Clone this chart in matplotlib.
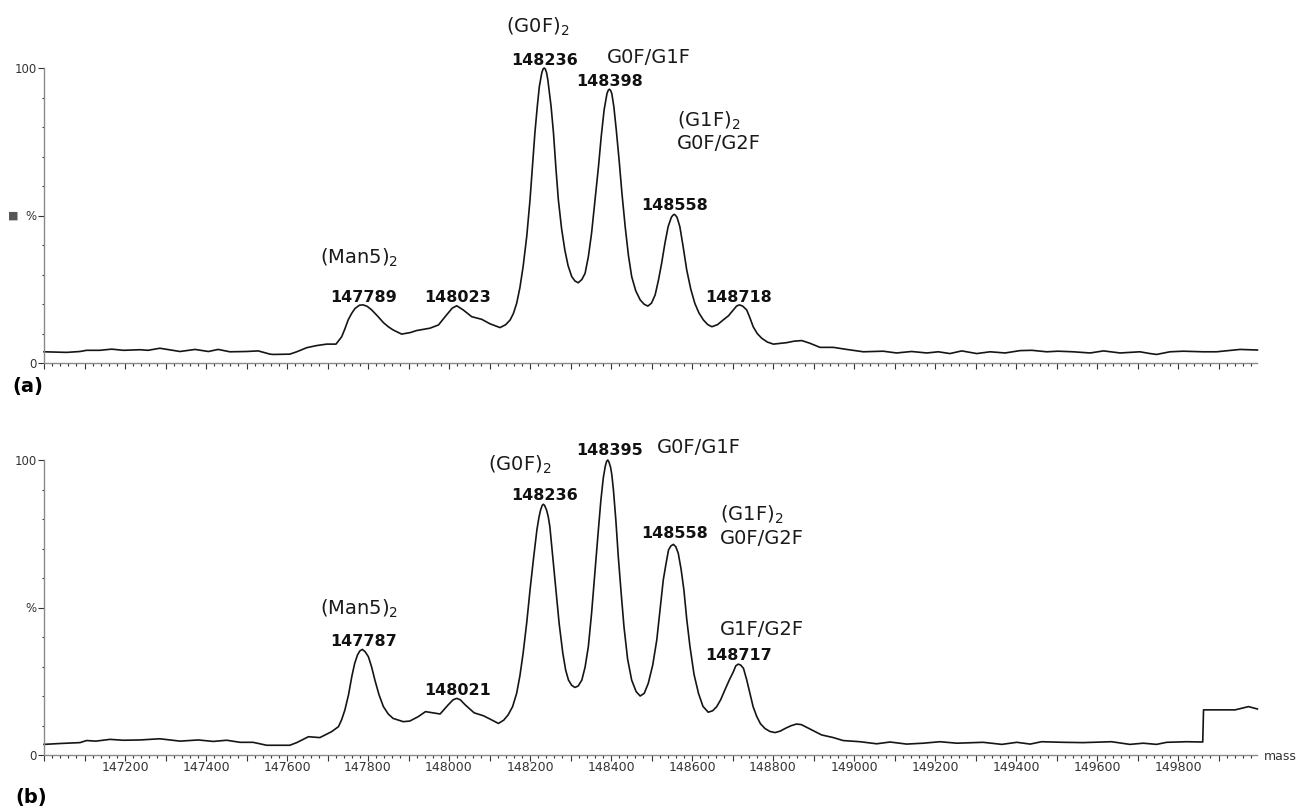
import matplotlib
matplotlib.use('Agg')
import matplotlib.pyplot as plt
from matplotlib.ticker import MultipleLocator, FixedLocator, FuncFormatter

plt.rcParams['font.family'] = ['DejaVu Sans']
plt.rcParams['mathtext.fontset'] = 'dejavusans'

# ---------------- data (mass, % intensity) ----------------
mass_a = [147000, 147056, 147089, 147105, 147138, 147167, 147196, 147237, 147257, 147286,
          147336, 147373, 147406, 147430, 147459, 147500, 147529, 147558, 147566, 147607,
          147624, 147649, 147673, 147698, 147721, 147735, 147743, 147751, 147760, 147768,
          147779, 147788, 147798, 147809, 147823, 147838, 147850, 147862, 147883, 147904,
          147920, 147953, 147974, 147994, 148008, 148019, 148035, 148056, 148081, 148101,
          148126, 148140, 148151, 148159, 148167, 148175, 148183, 148192, 148200, 148206,
          148212, 148218, 148223, 148226, 148229, 148232, 148235, 148238, 148241, 148244,
          148246, 148252, 148258, 148264, 148270, 148278, 148286, 148294, 148303, 148311,
          148319, 148328, 148336, 148344, 148352, 148360, 148369, 148376, 148383, 148390,
          148393, 148396, 148399, 148402, 148407, 148413, 148420, 148427, 148435, 148443,
          148451, 148461, 148472, 148482, 148491, 148500, 148509, 148517, 148525, 148533,
          148541, 148549, 148553, 148556, 148559, 148563, 148570, 148578, 148587, 148597,
          148607, 148617, 148628, 148639, 148649, 148663, 148677, 148690, 148702, 148710,
          148717, 148725, 148735, 148743, 148751, 148761, 148772, 148786, 148801, 148834,
          148852, 148871, 148891, 148916, 148949, 148982, 149023, 149072, 149105, 149142,
          149180, 149208, 149237, 149266, 149303, 149336, 149373, 149410, 149439, 149476,
          149504, 149541, 149583, 149616, 149657, 149706, 149731, 149747, 149780, 149813,
          149862, 149895, 149953, 149996]
int_a = [3.8, 3.6, 3.9, 4.3, 4.3, 4.7, 4.3, 4.5, 4.3, 5.0,
         3.9, 4.6, 3.9, 4.6, 3.8, 3.9, 4.1, 3.0, 2.9, 3.0,
         3.8, 5.2, 5.9, 6.4, 6.4, 8.9, 11.6, 14.6, 16.9, 18.5,
         19.6, 19.7, 19.2, 18.0, 16.0, 13.7, 12.3, 11.2, 9.8, 10.3,
         11.0, 11.8, 12.9, 16.3, 18.6, 19.4, 18.0, 15.7, 14.8, 13.3,
         12.0, 13.0, 14.6, 16.8, 20.2, 25.5, 32.7, 43.0, 55.3, 66.5,
         77.9, 87.0, 93.7, 96.0, 98.3, 99.6, 100.0, 99.6, 98.3, 96.0,
         93.7, 87.0, 77.9, 66.0, 55.3, 45.5, 38.3, 33.0, 29.3, 27.8,
         27.2, 28.3, 30.4, 36.0, 44.0, 54.5, 66.5, 77.0, 85.8, 91.3,
         92.4, 92.8, 92.4, 91.3, 86.9, 79.0, 68.8, 57.5, 46.2, 36.5,
         29.3, 24.5, 21.4, 19.9, 19.3, 20.3, 23.1, 28.0, 33.8, 40.5,
         46.2, 49.4, 50.1, 50.4, 50.1, 49.4, 46.2, 39.5, 31.5, 25.0,
         20.2, 17.0, 14.6, 13.0, 12.3, 13.0, 14.6, 16.0, 18.0, 19.3,
         19.7, 19.3, 18.0, 15.3, 12.3, 10.0, 8.4, 7.1, 6.4, 6.9,
         7.4, 7.6, 6.7, 5.3, 5.3, 4.6, 3.8, 4.0, 3.4, 3.9,
         3.4, 3.8, 3.2, 4.1, 3.2, 3.8, 3.4, 4.2, 4.3, 3.8,
         4.0, 3.8, 3.4, 4.1, 3.4, 3.8, 3.2, 2.9, 3.8, 4.0,
         3.8, 3.8, 4.6, 4.4]

mass_b = [147000, 147040, 147089, 147105, 147128, 147163, 147196, 147237, 147286, 147336,
          147381, 147418, 147451, 147484, 147516, 147550, 147607, 147624, 147653, 147681,
          147710, 147727, 147735, 147743, 147752, 147760, 147767, 147774, 147780, 147786,
          147793, 147801, 147809, 147817, 147827, 147838, 147850, 147862, 147887, 147903,
          147924, 147942, 147960, 147978, 147998, 148010, 148019, 148028, 148040, 148062,
          148085, 148101, 148122, 148135, 148146, 148157, 148167, 148175, 148183, 148192,
          148200, 148209, 148217, 148222, 148226, 148230, 148233, 148236, 148241, 148245,
          148249, 148256, 148264, 148272, 148281, 148288, 148295, 148303, 148311, 148319,
          148328, 148336, 148344, 148352, 148360, 148368, 148375, 148381, 148386, 148389,
          148392, 148395, 148399, 148402, 148406, 148412, 148418, 148425, 148432, 148441,
          148451, 148462, 148472, 148482, 148492, 148503, 148513, 148521, 148529, 148536,
          148542, 148548, 148554, 148560, 148566, 148573, 148580, 148587, 148595, 148605,
          148616, 148627, 148640, 148651, 148661, 148671, 148681, 148692, 148702, 148708,
          148714, 148720, 148727, 148735, 148743, 148751, 148760, 148769, 148780, 148792,
          148805, 148818, 148830, 148844, 148858, 148870, 148883, 148900, 148920, 148949,
          148973, 149015, 149056, 149089, 149130, 149171, 149212, 149254, 149319, 149365,
          149402, 149435, 149463, 149517, 149566, 149636, 149681, 149714, 149747, 149772,
          149821, 149861, 149863, 149895, 149941, 149974, 149996]
int_b = [3.6, 3.9, 4.2, 4.9, 4.7, 5.3, 5.0, 5.1, 5.5, 4.7,
         5.1, 4.6, 5.0, 4.3, 4.3, 3.3, 3.3, 4.2, 6.2, 5.9,
         7.9, 9.6, 12.0, 15.3, 20.5, 26.6, 31.0, 33.9, 35.3, 35.8,
         35.0, 33.3, 29.8, 25.4, 20.5, 16.4, 13.9, 12.4, 11.3, 11.5,
         13.0, 14.7, 14.3, 13.9, 17.0, 18.7, 19.2, 18.7, 17.0, 14.3,
         13.3, 12.2, 10.7, 11.8, 13.6, 16.4, 20.9, 26.8, 34.5, 45.0,
         55.9, 67.0, 76.3, 80.5, 83.0, 84.6, 85.0, 84.6, 83.0, 80.8,
         77.4, 67.5, 55.9, 44.5, 34.5, 28.8, 25.4, 23.6, 22.9, 23.4,
         25.4, 29.8, 36.7, 48.0, 61.6, 75.0, 86.4, 94.0, 98.0, 99.5,
         100.0, 99.3, 97.5, 95.0, 89.8, 79.5, 67.2, 55.0, 43.5, 32.5,
         25.4, 21.5, 20.0, 20.9, 24.3, 30.5, 39.0, 49.0, 59.3, 65.0,
         69.5, 70.9, 71.4, 70.6, 68.4, 63.0, 55.9, 46.0, 36.7, 27.3,
         20.9, 16.5, 14.5, 15.0, 16.4, 18.8, 22.0, 25.4, 28.2, 30.2,
         30.8, 30.5, 29.4, 25.5, 20.9, 16.3, 13.0, 10.6, 9.0, 8.0,
         7.6, 8.1, 9.0, 9.9, 10.5, 10.3, 9.4, 8.2, 6.8, 5.9,
         4.9, 4.5, 3.8, 4.4, 3.7, 4.0, 4.5, 4.0, 4.3, 3.6,
         4.3, 3.7, 4.5, 4.3, 4.2, 4.5, 3.6, 4.0, 3.6, 4.3,
         4.5, 4.4, 15.3, 15.3, 15.3, 16.4, 15.6]

# peak labels: (text, mass, intensity, bold, ha)
labels_a = [
    ("(Man5)$_2$", 147779, 33.6, False, 'center'),
    ("147789", 147789, 20.8, True, 'center'),
    ("148023", 148021, 20.8, True, 'center'),
    ("(G0F)$_2$", 148218, 112.0, False, 'center'),
    ("148236", 148235, 101.0, True, 'center'),
    ("G0F/G1F", 148494, 101.6, False, 'center'),
    ("148398", 148397, 93.9, True, 'center'),
    ("(G1F)$_2$", 148562, 80.1, False, 'left'),
    ("G0F/G2F", 148562, 72.4, False, 'left'),
    ("148558", 148557, 51.9, True, 'center'),
    ("148718", 148716, 20.8, True, 'center'),
]
labels_b = [
    ("(Man5)$_2$", 147779, 47.5, False, 'center'),
    ("147787", 147789, 37.1, True, 'center'),
    ("148021", 148021, 20.3, True, 'center'),
    ("(G0F)$_2$", 148175, 96.4, False, 'center'),
    ("148236", 148235, 86.4, True, 'center'),
    ("148395", 148396, 101.7, True, 'center'),
    ("G0F/G1F", 148618, 102.5, False, 'center'),
    ("(G1F)$_2$", 148669, 79.4, False, 'left'),
    ("G0F/G2F", 148669, 71.4, False, 'left'),
    ("148558", 148557, 73.4, True, 'center'),
    ("G1F/G2F", 148669, 40.7, False, 'left'),
    ("148717", 148716, 32.2, True, 'center'),
]

y_ticks = [0, 50, 100]
y_ticklabels = ['0', '%', '100']
x_range = (147000, 149995)

# ---------------- figure ----------------
W, H = 1300, 809
fig = plt.figure(figsize=(W / 100, H / 100), dpi=100)


def rect(left_px, right_px, y0_px, y100_px):
    return [left_px / W, 1 - y0_px / H, (right_px - left_px) / W, (y0_px - y100_px) / H]


ax_a = fig.add_axes(rect(44, 1257, 363, 68))
ax_b = fig.add_axes(rect(44, 1257, 755, 460))

tick_col = '#333333'
spine_col = '#8a8a8a'


def style(ax, show_xlabels):
    for s in ('top', 'right'):
        ax.spines[s].set_visible(False)
    for s in ('left', 'bottom'):
        ax.spines[s].set_color(spine_col)
        ax.spines[s].set_linewidth(1.0)
    ax.set_xlim(*x_range)
    ax.set_ylim(0, 100)
    ax.xaxis.set_major_locator(MultipleLocator(100))
    ax.xaxis.set_minor_locator(MultipleLocator(20))
    ax.xaxis.set_major_formatter(FuncFormatter(
        lambda v, p: (f"{int(round(v))}" if (int(round(v)) % 200 == 0 and v > x_range[0] + 1) else "")))
    ax.yaxis.set_major_locator(FixedLocator(y_ticks))
    ax.set_yticklabels(y_ticklabels)
    ax.yaxis.set_minor_locator(MultipleLocator(10))
    ax.tick_params(axis='x', which='major', direction='out', length=4, width=0.8,
                   color=tick_col, labelsize=9, labelcolor=tick_col, pad=0.5,
                   labelbottom=show_xlabels)
    ax.tick_params(axis='x', which='minor', direction='out', length=2.4, width=0.8, color=tick_col)
    ax.tick_params(axis='y', which='major', direction='out', length=4, width=0.8,
                   color=tick_col, labelsize=8.5, labelcolor=tick_col, pad=1.2)
    ax.tick_params(axis='y', which='minor', direction='out', length=1.7, width=0.8, color=tick_col)


style(ax_a, False)
style(ax_b, True)

ax_a.plot(mass_a, int_a, color='#151515', lw=1.2, solid_joinstyle='round', clip_on=False)
ax_b.plot(mass_b, int_b, color='#151515', lw=1.2, solid_joinstyle='round', clip_on=False)

for ax, labs in ((ax_a, labels_a), (ax_b, labels_b)):
    for txt, m, v, bold, ha in labs:
        if bold:
            ax.text(m, v, txt, ha=ha, va='baseline', fontsize=11.5, fontweight='bold',
                    color='#111111', clip_on=False)
        else:
            ax.text(m, v, txt, ha=ha, va='baseline', fontsize=14, color='#1a1a1a',
                    clip_on=False)

fig.text(12 / W, 1 - 387 / H, '(a)', ha='left', va='center', fontsize=14, fontweight='bold')
fig.text(15 / W, 1 - 797 / H, '(b)', ha='left', va='center', fontsize=14, fontweight='bold')
fig.text(1264 / W, 1 - 756 / H, 'mass', ha='left', va='center', fontsize=9, color=tick_col)
fig.text(13 / W, 1 - 216 / H, '\u25a0', ha='center', va='center', fontsize=8, color='#555555')

fig.savefig('out.png', dpi=100)
